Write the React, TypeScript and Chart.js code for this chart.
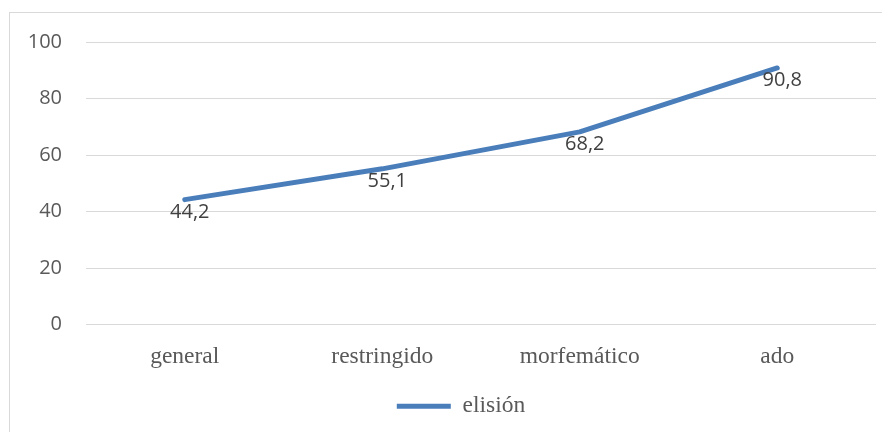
import React, { useEffect, useRef } from "react";
import { Chart, registerables } from "chart.js";

Chart.register(...registerables);

const categories = ["general", "restringido", "morfemático", "ado"];
const seriesName = "elisión";
const seriesValues = [44.2, 55.1, 68.2, 90.8];
const yTicks = [0, 20, 40, 60, 80, 100];

const LINE_COLOR = "#4A7EBB";
const GRID_COLOR = "#D9D9D9";
const TICK_COLOR = "#595959";
const LABEL_COLOR = "#404040";
const SANS = '"Open Sans", "Liberation Sans", sans-serif';
const SERIF = '"Liberation Serif", "Times New Roman", serif';

const dataLabelPlugin = {
  id: "dataLabels",
  afterDatasetsDraw(chart: any) {
    const ctx = chart.ctx;
    const meta = chart.getDatasetMeta(0);
    ctx.save();
    ctx.font = `20px ${SANS}`;
    ctx.fillStyle = LABEL_COLOR;
    ctx.textAlign = "center";
    ctx.textBaseline = "alphabetic";
    meta.data.forEach((el: any, i: number) => {
      const v = seriesValues[i];
      ctx.fillText(v.toFixed(1).replace(".", ","), el.x + 5, el.y + 18.5);
    });
    ctx.restore();
  },
};

export default function App() {
  const canvasRef = useRef<HTMLCanvasElement | null>(null);

  useEffect(() => {
    if (!canvasRef.current) return;
    const chart = new Chart(canvasRef.current, {
      type: "line",
      data: {
        labels: categories,
        datasets: [
          {
            label: seriesName,
            data: seriesValues,
            borderColor: LINE_COLOR,
            backgroundColor: LINE_COLOR,
            borderWidth: 5,
            borderCapStyle: "round",
            borderJoinStyle: "round",
            pointRadius: 0,
            pointHoverRadius: 0,
            pointStyle: "line",
            tension: 0,
            fill: false,
          },
        ],
      },
      options: {
        animation: false,
        responsive: true,
        maintainAspectRatio: false,
        layout: { padding: { top: 29, right: 0, left: 0, bottom: 23 } },
        scales: {
          x: {
            type: "category",
            offset: true,
            grid: { display: false, drawTicks: false },
            border: { display: false },
            ticks: {
              color: TICK_COLOR,
              font: { family: SERIF, size: 23.5 },
              padding: 18,
              maxRotation: 0,
            },
            afterFit: (scale: any) => {
              scale.height = 60;
            },
          },
          y: {
            min: 0,
            max: 100,
            afterBuildTicks: (scale: any) => {
              scale.ticks = yTicks.map((v) => ({ value: v }));
            },
            grid: { color: GRID_COLOR, lineWidth: 1, drawTicks: false },
            border: { display: false },
            ticks: {
              color: TICK_COLOR,
              font: { family: SANS, size: 20 },
              padding: 24,
            },
            afterFit: (scale: any) => {
              scale.width = 76;
              scale.paddingTop = 0;
              scale.paddingBottom = 0;
            },
          },
          yRight: {
            type: "linear",
            position: "right",
            display: true,
            grid: { display: false, drawTicks: false },
            border: { display: false },
            ticks: { display: false },
            afterFit: (scale: any) => {
              scale.width = 36;
              scale.paddingTop = 0;
              scale.paddingBottom = 0;
            },
          },
        },
        plugins: {
          legend: {
            display: true,
            position: "bottom",
            labels: {
              usePointStyle: true,
              pointStyle: "line",
              pointStyleWidth: 54,
              color: TICK_COLOR,
              font: { family: SERIF, size: 23.5 },
              padding: 10,
            },
          },
          tooltip: { enabled: false },
        },
      },
      plugins: [dataLabelPlugin],
    } as any);
    return () => chart.destroy();
  }, []);

  return (
    <div
      style={{
        width: 882,
        height: 424,
        overflow: "hidden",
        padding: "4px 0 0 1px",
        boxSizing: "border-box",
        background: "#FFFFFF",
      }}
    >
      <div
        style={{
          position: "relative",
          width: 904,
          height: 440,
          border: `1px solid ${GRID_COLOR}`,
          boxSizing: "border-box",
          background: "#FFFFFF",
        }}
      >
        <canvas ref={canvasRef} />
      </div>
    </div>
  );
}
